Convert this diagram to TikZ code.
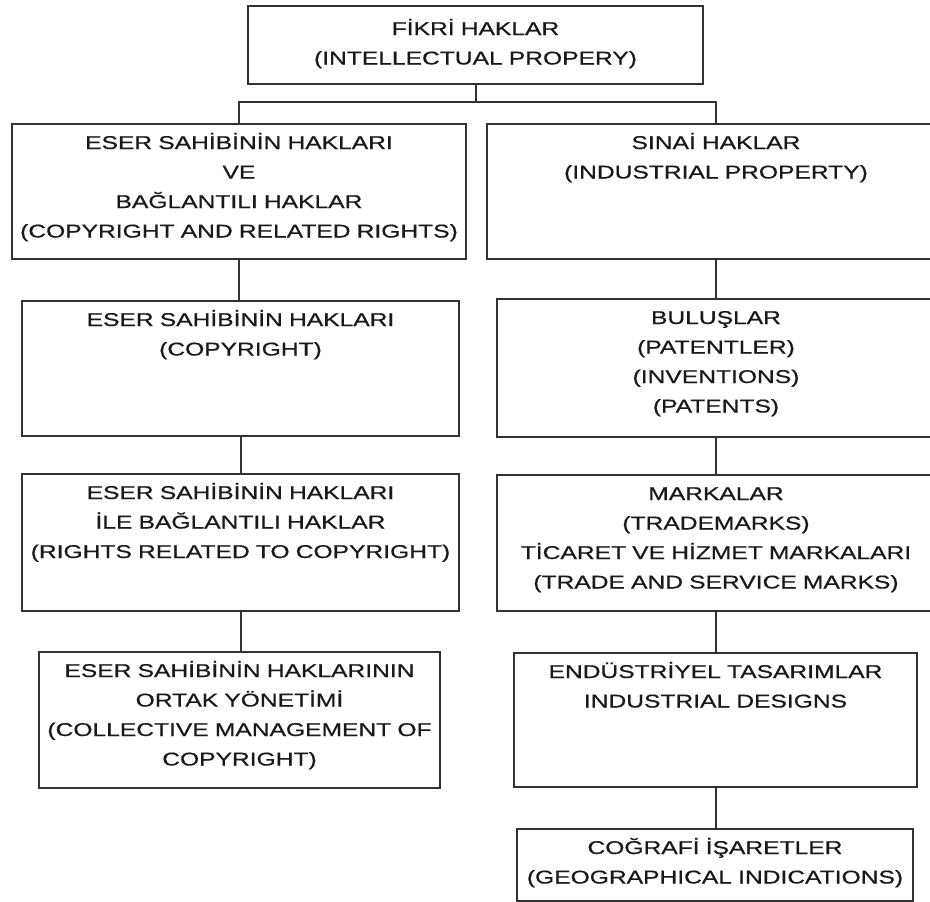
\documentclass[tikz,border=0pt]{standalone}
\usepackage{fontspec}
\setmainfont{Liberation Sans}[FakeStretch=1.33,FakeBold=0.6]
\begin{document}
\begin{tikzpicture}[x=1pt,y=-1pt,
  blok/.style 2 args={draw=black!80,line width=2pt,fill=white,anchor=north,
    minimum width=#1,text width=#1-2,inner xsep=1pt,inner ysep=12pt,
    align=center,text height=13pt,text depth=#2,text=black!90,
    font=\fontsize{18.5}{29.5}\selectfont},
  conn/.style={draw=black!80,line width=2pt}]
\useasboundingbox (0,0) rectangle (930,902);
\clip (0,0) rectangle (930,902);
% top
\node[blok={455}{33},inner ysep=16pt] (fikri) at (475.5,5) {FİKRİ HAKLAR\\(INTELLECTUAL PROPERY)};
% left column
\node[blok={454}{98}] (eser) at (239,123) {ESER SAHİBİNİN HAKLARI\\VE\\BAĞLANTILI HAKLAR\\(COPYRIGHT AND RELATED RIGHTS)};
\node[blok={437}{98}] (telif) at (240.5,300) {ESER SAHİBİNİN HAKLARI\\(COPYRIGHT)};
\node[blok={437}{100}] (bagli) at (240.5,473) {ESER SAHİBİNİN HAKLARI\\İLE BAĞLANTILI HAKLAR\\(RIGHTS RELATED TO COPYRIGHT)};
\node[blok={401}{99}] (ortak) at (239.5,651) {ESER SAHİBİNİN HAKLARININ\\ORTAK YÖNETİMİ\\(COLLECTIVE MANAGEMENT OF\\COPYRIGHT)};
% right column
\node[blok={458}{98}] (sinai) at (716,123) {SINAİ HAKLAR\\(INDUSTRIAL PROPERTY)};
\node[blok={438}{101}] (bulus) at (716,298) {BULUŞLAR\\(PATENTLER)\\(INVENTIONS)\\(PATENTS)};
\node[blok={438}{99}] (marka) at (716,474) {MARKALAR\\(TRADEMARKS)\\TİCARET VE HİZMET MARKALARI\\(TRADE AND SERVICE MARKS)};
\node[blok={403}{97}] (endus) at (715.5,652) {ENDÜSTRİYEL TASARIMLAR\\INDUSTRIAL DESIGNS};
\node[blok={396}{35}] (cograf) at (715,828) {COĞRAFİ İŞARETLER\\(GEOGRAPHICAL INDICATIONS)};
% connectors
\coordinate (bar) at (476,102);
\draw[conn] (fikri.south) -- (fikri.south |- bar);
\draw[conn] (eser.north) |- (bar) -| (sinai.north);
\draw[conn] (eser.south) -- (eser.south |- telif.north);
\draw[conn] (telif.south) -- (telif.south |- bagli.north);
\draw[conn] (bagli.south) -- (bagli.south |- ortak.north);
\draw[conn] (sinai.south) -- (sinai.south |- bulus.north);
\draw[conn] (bulus.south) -- (bulus.south |- marka.north);
\draw[conn] (marka.south) -- (marka.south |- endus.north);
\draw[conn] (endus.south) -- (endus.south |- cograf.north);
\end{tikzpicture}
\end{document}
